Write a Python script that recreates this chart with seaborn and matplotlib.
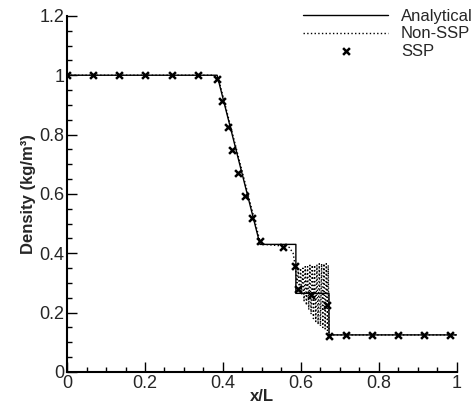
"""
Sod shock tube: density profile, analytical vs Non-SSP vs SSP schemes
"""
import matplotlib
matplotlib.use("Agg")
import matplotlib.pyplot as plt
import seaborn as sns
import pandas as pd
from matplotlib.ticker import MultipleLocator

# analytical solution (piecewise)
x_exact = [0.0, 0.385, 0.495, 0.587, 0.587, 0.672, 0.672, 1.0]
rho_exact = [1.0, 1.0, 0.43, 0.43, 0.265, 0.265, 0.125, 0.125]

# Non-SSP run: follows the exact solution, oscillates behind the shock
x_nonssp = [0.0, 0.375, 0.385, 0.392, 0.495, 0.505, 0.55, 0.57, 0.58, 0.586,
            0.590, 0.593, 0.596, 0.599, 0.602, 0.605, 0.608, 0.611, 0.614,
            0.617, 0.620, 0.623, 0.626, 0.629, 0.632, 0.635, 0.638, 0.641,
            0.644, 0.647, 0.650, 0.653, 0.656, 0.659, 0.662, 0.665, 0.668,
            0.670, 0.672, 0.68, 1.0]
rho_nonssp = [1.0, 1.0, 0.99, 0.97, 0.44, 0.43, 0.425, 0.42, 0.40, 0.35,
              0.30, 0.34, 0.27, 0.35, 0.26, 0.35, 0.24, 0.355, 0.225,
              0.355, 0.21, 0.36, 0.195, 0.36, 0.18, 0.36, 0.17, 0.36,
              0.16, 0.365, 0.155, 0.365, 0.15, 0.365, 0.145, 0.365, 0.14,
              0.36, 0.125, 0.125, 0.125]

# SSP run, plotted as markers
x_ssp = [0.0, 0.067, 0.133, 0.2, 0.269, 0.336, 0.385, 0.397, 0.413, 0.424,
         0.439, 0.456, 0.474, 0.495, 0.554, 0.585, 0.592, 0.625, 0.666,
         0.672, 0.715, 0.782, 0.849, 0.915, 0.982]
rho_ssp = [1.0, 1.0, 1.0, 1.0, 1.0, 1.0, 0.986, 0.912, 0.827, 0.749,
           0.671, 0.593, 0.519, 0.441, 0.42, 0.356, 0.28, 0.261, 0.227,
           0.122, 0.125, 0.125, 0.125, 0.125, 0.125]

x_ticks = [0.0, 0.2, 0.4, 0.6, 0.8, 1.0]
x_ticklabels = ["0", "0.2", "0.4", "0.6", "0.8", "1"]
y_ticks = [0.0, 0.2, 0.4, 0.6, 0.8, 1.0, 1.2]
y_ticklabels = ["0", "0.2", "0.4", "0.6", "0.8", "1", "1.2"]

df_exact = pd.DataFrame({"x": x_exact, "rho": rho_exact})
df_nonssp = pd.DataFrame({"x": x_nonssp, "rho": rho_nonssp})
df_ssp = pd.DataFrame({"x": x_ssp, "rho": rho_ssp})

sns.set_style("ticks")
plt.rcParams["font.family"] = ["Liberation Sans", "DejaVu Sans"]

fig = plt.figure(figsize=(4.72, 4.07), dpi=100)
ax = fig.add_axes([0.142, 0.086, 0.826, 0.875])

sns.lineplot(data=df_exact, x="x", y="rho", sort=False, estimator=None,
             color="black", linewidth=1.0, label="Analytical", ax=ax)
sns.lineplot(data=df_nonssp, x="x", y="rho", sort=False, estimator=None,
             color="black", linewidth=1.0, linestyle=":", label="Non-SSP", ax=ax)
sns.scatterplot(data=df_ssp, x="x", y="rho", marker="x", color="black",
                s=24, linewidth=1.8, label="SSP", ax=ax, zorder=5)

ax.set_xlim(0, 1)
ax.set_ylim(0, 1.2)
ax.set_xticks(x_ticks, x_ticklabels)
ax.set_yticks(y_ticks, y_ticklabels)
ax.xaxis.set_minor_locator(MultipleLocator(0.05))
ax.yaxis.set_minor_locator(MultipleLocator(0.05))
ax.tick_params(which="major", direction="in", length=7, width=1.0,
               labelsize=13, pad=2, color="black")
ax.tick_params(which="minor", direction="in", length=3.5, width=1.0, color="black")

sns.despine(ax=ax)
for side in ["left", "bottom"]:
    ax.spines[side].set_linewidth(1.5)
    ax.spines[side].set_color("black")

ax.set_xlabel("x/L", fontsize=12, fontweight="bold", labelpad=-2)
ax.set_ylabel("Density (kg/m³)", fontsize=12, fontweight="bold", labelpad=2)

ax.legend(loc="upper left", bbox_to_anchor=(0.625, 0.998),
          bbox_transform=fig.transFigure, frameon=False, fontsize=12,
          handlelength=5.1, handletextpad=0.75, labelspacing=0.14,
          borderpad=0)

plt.savefig("out.png", dpi=100)
plt.close()
